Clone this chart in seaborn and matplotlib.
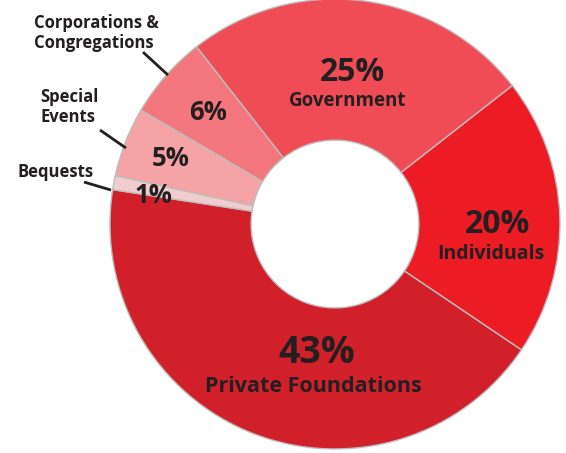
import matplotlib
matplotlib.use("Agg")
import matplotlib.pyplot as plt
import seaborn as sns

sns.set_theme(style="white")
plt.rcParams['font.family'] = ['Open Sans', 'DejaVu Sans']

categories = ["Private Foundations", "Individuals", "Government",
              "Corporations & Congregations", "Special Events", "Bequests"]
values = [43, 20, 25, 6, 5, 1]
pct_labels = ["43%", "20%", "25%", "6%", "5%", "1%"]
colors = ["#d2202a", "#ed1c24", "#f04c55", "#f3777d", "#f6a3a6", "#f1cdd0"]

fig = plt.figure(figsize=(5.66, 4.53), dpi=100)
ax = fig.add_axes([0, 0, 1, 1])
wedges, _ = ax.pie(values, colors=colors, startangle=171.2, counterclock=True,
                   radius=1.0,
                   wedgeprops=dict(width=0.627, edgecolor="#bdbdbd", linewidth=1.0))
ax.set_xlim(-1.489, 1.027)
ax.set_ylim(-1.018, 0.996)
ax.set_aspect("auto")
ax.axis("off")

txt = "#231f20"
W = "bold"
def px(x, y):
    return ((x - 335) / 225.0, (224 - y) / 225.0)

big = [(pct_labels[0], (317, 353), 27), (pct_labels[1], (498, 224), 23),
       (pct_labels[2], (352, 72), 23)]
for s, p, fs in big:
    ax.text(*px(*p), s, ha="center", va="center", fontsize=fs, fontweight=W, color=txt)
names = [(categories[0], (313, 387), 15.5), (categories[1], (491, 254), 14),
         (categories[2], (348, 101), 13.5)]
for s, p, fs in names:
    ax.text(*px(*p), s, ha="center", va="center", fontsize=fs, fontweight=W, color=txt)
small = [(pct_labels[3], (208, 112)), (pct_labels[4], (171, 158)), (pct_labels[5], (153, 195))]
for s, p in small:
    ax.text(*px(*p), s, ha="center", va="center", fontsize=18.5, fontweight=W, color=txt)

outer = [("Corporations &\nCongregations", (34, 33)), ("Special\nEvents", (40, 107)),
         ("Bequests", (17, 172))]
for s, p in outer:
    ax.text(*px(*p), s, ha="left", va="center", fontsize=12, fontweight=W,
            color=txt, linespacing=1.15)
leaders = [((143, 52), (168, 75)), ((100, 130), (126, 148)), ((84, 182), (111, 190))]
for a, b in leaders:
    x0, y0 = px(*a)
    x1, y1 = px(*b)
    ax.plot([x0, x1], [y0, y1], color=txt, lw=2, solid_capstyle="butt")

fig.savefig("out.png", dpi=100)
